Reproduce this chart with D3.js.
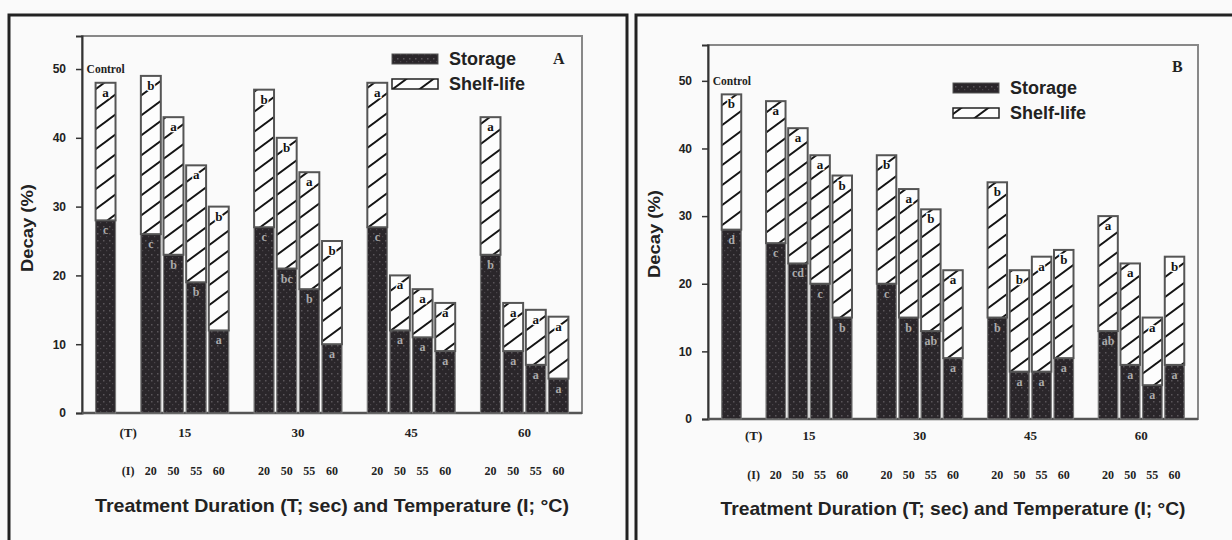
<!DOCTYPE html>
<html>
<head>
<meta charset="utf-8">
<script src="https://cdn.jsdelivr.net/npm/d3@7"></script>
<style>
  body { margin: 0; background: #fafafa; }
  svg { display: block; }
</style>
</head>
<body>
<div id="chart"></div>
<script>
// bar slots: control, then 4 temperatures for each duration
const barKeys = ["Control", "15-20", "15-50", "15-55", "15-60", "30-20", "30-50", "30-55", "30-60",
  "45-20", "45-50", "45-55", "45-60", "60-20", "60-50", "60-55", "60-60"];
const durations = ["15", "30", "45", "60"];
const temps = ["20", "50", "55", "60"];
const yTicks = [0, 10, 20, 30, 40, 50];

// panel A
const storageA = [28, 26, 23, 19, 12, 27, 21, 18, 10, 27, 12, 11, 9, 23, 9, 7, 5];
const shelfA = [20, 23, 20, 17, 18, 20, 19, 17, 15, 21, 8, 7, 7, 20, 7, 8, 9];
const storageLettersA = ["c", "c", "b", "b", "a", "c", "bc", "b", "a", "c", "a", "a", "a", "b", "a", "a", "a"];
const shelfLettersA = ["a", "b", "a", "a", "b", "b", "b", "a", "b", "a", "a", "a", "a", "a", "a", "a", "a"];

// panel B
const storageB = [28, 26, 23, 20, 15, 20, 15, 13, 9, 15, 7, 7, 9, 13, 8, 5, 8];
const shelfB = [20, 21, 20, 19, 21, 19, 19, 18, 13, 20, 15, 17, 16, 17, 15, 10, 16];
const storageLettersB = ["d", "c", "cd", "c", "b", "c", "b", "ab", "a", "b", "a", "a", "a", "ab", "a", "a", "a"];
const shelfLettersB = ["b", "a", "a", "a", "b", "b", "a", "b", "a", "b", "b", "a", "b", "a", "a", "a", "b"];

// slot domain with empty gaps between groups
const slots = ["Control", "gT"];
durations.forEach((d, i) => {
  temps.forEach(t => slots.push(d + "-" + t));
  if (i < durations.length - 1) slots.push("g" + d);
});

const svg = d3.select("#chart").append("svg")
  .attr("width", 1232)
  .attr("height", 540);

const defs = svg.append("defs");

// diagonal hatch for shelf-life
const hatch = defs.append("pattern")
  .attr("id", "hatch")
  .attr("patternUnits", "userSpaceOnUse")
  .attr("width", 27)
  .attr("height", 20);
hatch.append("rect").attr("width", 27).attr("height", 20).attr("fill", "#fdfdfd");
hatch.append("path")
  .attr("d", "M0,20 L27,0 M-6,4.4 L6,-4.4 M21,24.4 L33,15.6")
  .attr("stroke", "#151515")
  .attr("stroke-width", 1.9);

// speckled dark fill for storage
const speck = defs.append("pattern")
  .attr("id", "speck")
  .attr("patternUnits", "userSpaceOnUse")
  .attr("width", 6)
  .attr("height", 7);
speck.append("rect").attr("width", 6).attr("height", 7).attr("fill", "#2a262a");
speck.append("rect").attr("x", 1).attr("y", 2).attr("width", 1.5).attr("height", 1.5).attr("fill", "#5a555a");
speck.append("rect").attr("x", 4).attr("y", 5).attr("width", 1.2).attr("height", 1.2).attr("fill", "#4a454a");

// outer frames
svg.append("path")
  .attr("d", "M9,560 L9,15 L627,15 L627,560")
  .attr("fill", "none").attr("stroke", "#222").attr("stroke-width", 3);
svg.append("path")
  .attr("d", "M636,560 L636,15 L1240,15")
  .attr("fill", "none").attr("stroke", "#222").attr("stroke-width", 3);

const sans = "'Liberation Sans', Arial, sans-serif";
const serif = "'Liberation Serif', 'Times New Roman', serif";

function drawPanel(cfg, storage, shelf, storageLetters, shelfLetters) {
  const g = svg.append("g");

  const x = d3.scaleBand()
    .domain(slots)
    .range([cfg.left, cfg.right])
    .paddingInner(0.12)
    .paddingOuter(cfg.padOuter);

  const y = d3.scaleLinear()
    .domain([0, cfg.yMax])
    .range([cfg.bottom, cfg.top]);

  // plot box
  g.append("rect")
    .attr("x", cfg.left).attr("y", cfg.top)
    .attr("width", cfg.right - cfg.left).attr("height", cfg.bottom - cfg.top)
    .attr("fill", "none").attr("stroke", "#888").attr("stroke-width", 2);

  const yAxis = g.append("g")
    .attr("transform", "translate(" + cfg.left + ",0)")
    .call(d3.axisLeft(y).tickValues(yTicks).tickSize(6).tickPadding(10));
  yAxis.select(".domain").attr("stroke", "#333").attr("stroke-width", 2);
  yAxis.selectAll(".tick line").attr("stroke", "#333").attr("stroke-width", 1.5);
  yAxis.selectAll(".tick text")
    .attr("font-family", sans)
    .attr("font-weight", "bold")
    .attr("font-size", 12)
    .attr("fill", "#222");

  g.append("line")
    .attr("x1", cfg.left).attr("x2", cfg.right)
    .attr("y1", cfg.bottom).attr("y2", cfg.bottom)
    .attr("stroke", "#555").attr("stroke-width", 2.5);

  const rows = barKeys.map((k, i) => ({
    key: k, storage: storage[i], shelf: shelf[i],
    sl: storageLetters[i], hl: shelfLetters[i]
  }));

  const bars = g.selectAll(".bar").data(rows).enter().append("g").attr("class", "bar");

  bars.append("rect")
    .attr("x", d => x(d.key))
    .attr("y", d => y(d.storage))
    .attr("width", x.bandwidth())
    .attr("height", d => y(0) - y(d.storage))
    .attr("fill", "url(#speck)")
    .attr("stroke", "#777").attr("stroke-width", 1.2);

  bars.append("rect")
    .attr("x", d => x(d.key))
    .attr("y", d => y(d.storage + d.shelf))
    .attr("width", x.bandwidth())
    .attr("height", d => y(d.storage) - y(d.storage + d.shelf))
    .attr("fill", "url(#hatch)")
    .attr("stroke", "#555").attr("stroke-width", 2);

  bars.append("text")
    .attr("x", d => x(d.key) + x.bandwidth() / 2)
    .attr("y", d => y(d.storage + d.shelf) + 14)
    .attr("text-anchor", "middle")
    .attr("font-family", serif)
    .attr("font-weight", "bold")
    .attr("font-size", 13)
    .attr("fill", "#111")
    .attr("stroke", "#fdfdfd").attr("stroke-width", 2.5).attr("paint-order", "stroke")
    .text(d => d.hl);

  bars.append("text")
    .attr("x", d => x(d.key) + x.bandwidth() / 2)
    .attr("y", d => y(d.storage) + 14)
    .attr("text-anchor", "middle")
    .attr("font-family", serif)
    .attr("font-weight", "bold")
    .attr("font-size", 12)
    .attr("fill", "#aaa")
    .text(d => d.sl);

  // x labels: durations row and temperature row
  const tx = x("gT") + x.bandwidth() / 2;
  g.append("text").attr("x", tx).attr("y", cfg.rowT)
    .attr("text-anchor", "middle").attr("font-family", serif).attr("font-weight", "bold")
    .attr("font-size", 13).attr("fill", "#222").text("(T)");
  g.append("text").attr("x", tx).attr("y", cfg.rowI)
    .attr("text-anchor", "middle").attr("font-family", serif).attr("font-weight", "bold")
    .attr("font-size", 12).attr("fill", "#222").text("(I)");

  durations.forEach(d => {
    const x0 = x(d + "-" + temps[0]);
    const x1 = x(d + "-" + temps[temps.length - 1]) + x.bandwidth();
    g.append("text").attr("x", (x0 + x1) / 2).attr("y", cfg.rowT)
      .attr("text-anchor", "middle").attr("font-family", serif).attr("font-weight", "bold")
      .attr("font-size", 13).attr("fill", "#222").text(d);
    temps.forEach(t => {
      g.append("text").attr("x", x(d + "-" + t) + x.bandwidth() / 2).attr("y", cfg.rowI)
        .attr("text-anchor", "middle").attr("font-family", serif).attr("font-weight", "bold")
        .attr("font-size", 12).attr("fill", "#222").text(t);
    });
  });

  g.append("text")
    .attr("x", cfg.titleX).attr("y", cfg.titleY)
    .attr("text-anchor", "middle")
    .attr("font-family", sans)
    .attr("font-weight", "bold").attr("font-size", 19).attr("fill", "#222")
    .attr("textLength", cfg.titleW).attr("lengthAdjust", "spacingAndGlyphs")
    .text("Treatment Duration (T; sec) and Temperature (I; °C)");

  g.append("text")
    .attr("transform", "translate(" + cfg.yTitleX + "," + cfg.yTitleY + ") rotate(-90)")
    .attr("text-anchor", "middle")
    .attr("font-family", sans)
    .attr("font-weight", "bold").attr("font-size", 17).attr("fill", "#222")
    .attr("textLength", 88).attr("lengthAdjust", "spacingAndGlyphs")
    .text("Decay (%)");

  g.append("text")
    .attr("x", x("Control") - 9).attr("y", y(50) + 4)
    .attr("font-family", serif).attr("font-weight", "bold")
    .attr("font-size", 11.5).attr("fill", "#222").text("Control");

  g.append("text")
    .attr("x", cfg.letterX).attr("y", cfg.letterY)
    .attr("font-family", serif).attr("font-weight", "bold")
    .attr("font-size", 16).attr("fill", "#222").text(cfg.name);

  // legend
  const lg = g.append("g");
  lg.append("rect").attr("x", cfg.legX).attr("y", cfg.legY - 5)
    .attr("width", 46).attr("height", 10)
    .attr("fill", "url(#speck)").attr("stroke", "#555").attr("stroke-width", 1);
  lg.append("rect").attr("x", cfg.legX).attr("y", cfg.legY + cfg.legGap - 5)
    .attr("width", 46).attr("height", 10)
    .attr("fill", "url(#hatch)").attr("stroke", "#222").attr("stroke-width", 1.5);
  ["Storage", "Shelf-life"].forEach((s, i) => {
    lg.append("text")
      .attr("x", cfg.legX + 57).attr("y", cfg.legY + i * cfg.legGap + 6)
      .attr("font-family", sans)
      .attr("font-weight", "bold").attr("font-size", 18).attr("fill", "#222")
      .text(s);
  });
}

drawPanel({
  name: "A", left: 82, right: 582, top: 36, bottom: 413, yMax: 54.8, padOuter: 0.6,
  rowT: 437, rowI: 475, titleX: 332, titleY: 512, titleW: 474, yTitleX: 33, yTitleY: 228,
  letterX: 553, letterY: 64, legX: 392, legY: 59, legGap: 25
}, storageA, shelfA, storageLettersA, shelfLettersA);

drawPanel({
  name: "B", left: 708, right: 1198, top: 45, bottom: 419, yMax: 55.3, padOuter: 0.62,
  rowT: 440, rowI: 479, titleX: 953, titleY: 515, titleW: 465, yTitleX: 660, yTitleY: 234,
  letterX: 1172, letterY: 72, legX: 953, legY: 88, legGap: 25
}, storageB, shelfB, storageLettersB, shelfLettersB);
</script>
</body>
</html>
